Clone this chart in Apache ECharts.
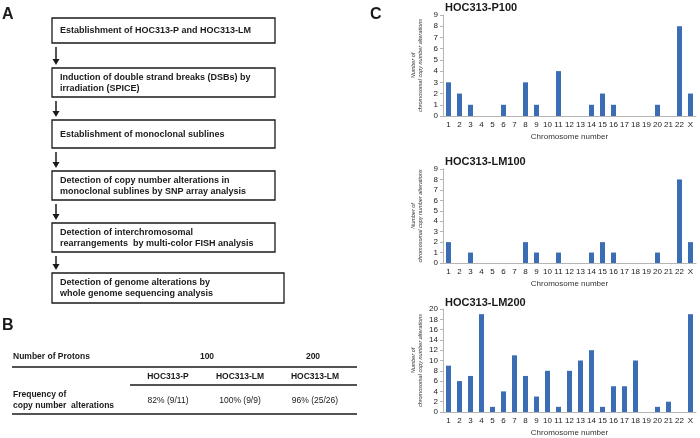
<!DOCTYPE html>
<html>
<head>
<meta charset="utf-8">
<script src="https://cdn.jsdelivr.net/npm/echarts@6/dist/echarts.min.js"></script>
<style>
html,body{margin:0;padding:0;background:#fff;}
#chart{width:700px;height:438px;}
</style>
</head>
<body>
<div id="chart"></div>
<script>
// ---- data ----
const chromosomes = ['1','2','3','4','5','6','7','8','9','10','11','12','13','14','15','16','17','18','19','20','21','22','X'];
const p100Values  = [3,2,1,0,0,1,0,3,1,0,4,0,0,1,2,1,0,0,0,1,0,8,2];
const lm100Values = [2,0,1,0,0,0,0,2,1,0,1,0,0,1,2,1,0,0,0,1,0,8,2];
const lm200Values = [9,6,7,19,1,4,11,7,3,8,1,8,10,12,1,5,5,10,0,1,2,0,19];
const panelTitles = ['HOC313-P100','HOC313-LM100','HOC313-LM200'];
const yMaxes = [9, 9, 20];
const yIntervals = [1, 1, 2];

const flowSteps = [
  'Establishment of HOC313-P and HOC313-LM',
  'Induction of double strand breaks (DSBs) by\nirradiation (SPICE)',
  'Establishment of monoclonal sublines',
  'Detection of copy number alterations in\nmonoclonal sublines by SNP array analysis',
  'Detection of interchromosomal\nrearrangements  by multi-color FISH analysis',
  'Detection of genome alterations by\nwhole genome sequencing analysis'
];
const tableProtons = ['100', '200'];
const tableLines = ['HOC313-P', 'HOC313-LM', 'HOC313-LM'];
const tableFreq = ['82% (9/11)', '100% (9/9)', '96% (25/26)'];

// ---- layout ----
const FONT = '"Liberation Sans", Arial, sans-serif';
const BAR = '#3b6db4';
const grids = [
  {left: 443, right: 4, top: 15, height: 101},
  {left: 443, right: 4, top: 169, height: 94},
  {left: 443, right: 4, top: 309, height: 106}
];
const titleTops = [2, 156, 297];
const seriesData = [p100Values, lm100Values, lm200Values];

const graphic = [];
function txt(x, y, text, size, weight, align, extra) {
  graphic.push({type: 'text', x: x, y: y, silent: true,
    style: Object.assign({text: text, fontSize: size, fontWeight: weight || 'normal', fontFamily: FONT,
      fill: '#1a1a1a', align: align || 'left', verticalAlign: 'middle'}, extra || {})});
}
// panel letters
txt(2, 15, 'A', 16, 'bold');
txt(2, 326, 'B', 16, 'bold');
txt(370, 15, 'C', 16, 'bold');

// flowchart boxes
const boxes = [
  [52, 18, 223, 25],
  [52, 68, 223, 29],
  [52, 120, 223, 28],
  [52, 171, 223, 29],
  [52, 223, 223, 29],
  [52, 273, 232, 30]
];
boxes.forEach((b, i) => {
  graphic.push({type: 'rect', silent: true, shape: {x: b[0], y: b[1], width: b[2], height: b[3]},
    style: {fill: '#fff', stroke: '#1a1a1a', lineWidth: 1.3}});
  txt(b[0] + 8, b[1] + b[3] / 2 + 0.5, flowSteps[i], 9, 'bold', 'left', {lineHeight: 11});
  if (i < boxes.length - 1) {
    const y1 = b[1] + b[3] + 4, y2 = boxes[i + 1][1] - 3;
    graphic.push({type: 'line', silent: true, shape: {x1: 56, y1: y1, x2: 56, y2: y2 - 5},
      style: {stroke: '#1a1a1a', lineWidth: 1.5}});
    graphic.push({type: 'polygon', silent: true, shape: {points: [[52.5, y2 - 6], [59.5, y2 - 6], [56, y2]]},
      style: {fill: '#1a1a1a'}});
  }
});

// table B
txt(13, 357, 'Number of Protons', 8.5, 'bold');
txt(207, 357, tableProtons[0], 8.5, 'bold', 'center');
txt(313, 357, tableProtons[1], 8.5, 'bold', 'center');
const colX = [168, 240, 315];
tableLines.forEach((t, i) => txt(colX[i], 377, t, 8.5, 'bold', 'center'));
txt(13, 400.5, 'Frequency of\ncopy number  alterations', 8.5, 'bold', 'left', {lineHeight: 11});
tableFreq.forEach((t, i) => txt(colX[i], 401, t, 8.5, 'normal', 'center'));
[[12, 367, 357], [130, 385, 357], [12, 414, 357]].forEach(l => {
  graphic.push({type: 'line', silent: true, shape: {x1: l[0], y1: l[1], x2: l[2], y2: l[1]},
    style: {stroke: '#1a1a1a', lineWidth: 1.3}});
});

const option = {
  animation: false,
  backgroundColor: '#fff',
  textStyle: {fontFamily: FONT},
  title: panelTitles.map((t, i) => ({text: t, left: 445, top: titleTops[i], padding: 0,
    textStyle: {fontSize: 11, fontWeight: 'bold', color: '#1a1a1a', fontFamily: FONT}})),
  grid: grids,
  xAxis: grids.map((g, i) => ({
    type: 'category', gridIndex: i, data: chromosomes,
    name: 'Chromosome number', nameLocation: 'middle', nameGap: 17,
    nameTextStyle: {fontSize: 8, color: '#333', fontFamily: FONT},
    axisLine: {lineStyle: {color: '#b5b5b5', width: 1}},
    axisTick: {show: false},
    axisLabel: {interval: 0, fontSize: 8, color: '#222', margin: 5, fontFamily: FONT}
  })),
  yAxis: grids.map((g, i) => ({
    type: 'value', gridIndex: i, min: 0, max: yMaxes[i], interval: yIntervals[i],
    name: 'Number of\nchromosomal copy number alterations', nameLocation: 'middle', nameRotate: 90, nameGap: 19,
    nameTextStyle: {fontSize: 5.5, fontStyle: 'italic', color: '#333', lineHeight: 7, fontFamily: FONT},
    axisLine: {show: true, lineStyle: {color: '#b5b5b5', width: 1}},
    axisTick: {show: true, length: 3, lineStyle: {color: '#b5b5b5'}},
    splitLine: {show: false},
    axisLabel: {fontSize: 8, color: '#222', margin: 5, fontFamily: FONT}
  })),
  series: seriesData.map((d, i) => ({
    type: 'bar', xAxisIndex: i, yAxisIndex: i, data: d, barWidth: 5,
    itemStyle: {color: BAR}
  })),
  graphic: graphic
};
const chart = echarts.init(document.getElementById('chart'), null, {renderer: 'canvas'});
chart.setOption(option);
</script>
</body>
</html>
